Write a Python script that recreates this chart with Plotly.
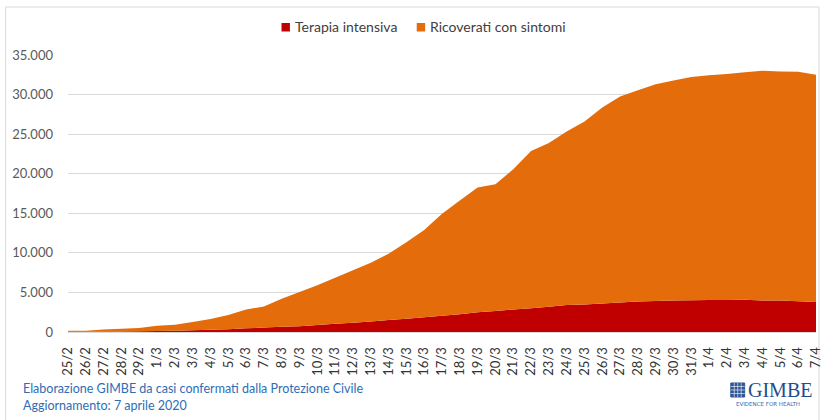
import plotly.graph_objects as go

dates = ["25/2", "26/2", "27/2", "28/2", "29/2",
         "1/3", "2/3", "3/3", "4/3", "5/3", "6/3", "7/3", "8/3", "9/3", "10/3",
         "11/3", "12/3", "13/3", "14/3", "15/3", "16/3", "17/3", "18/3", "19/3", "20/3",
         "21/3", "22/3", "23/3", "24/3", "25/3", "26/3", "27/3", "28/3", "29/3", "30/3", "31/3",
         "1/4", "2/4", "3/4", "4/4", "5/4", "6/4", "7/4"]

terapia_intensiva = [35, 36, 56, 64, 105,
                     140, 166, 229, 295, 351, 462, 567, 650, 733, 877,
                     1028, 1153, 1328, 1518, 1672, 1851, 2060, 2257, 2498, 2655,
                     2857, 3009, 3204, 3396, 3489, 3612, 3732, 3856, 3906, 3981, 4023,
                     4035, 4053, 4068, 3994, 3977, 3898, 3792]

ricoverati_con_sintomi = [114, 128, 248, 345, 401,
                          639, 742, 1034, 1346, 1790, 2394, 2651, 3557, 4316, 5038,
                          5838, 6650, 7426, 8372, 9663, 11025, 12894, 14363, 15757, 16020,
                          17708, 19846, 20692, 21937, 23112, 24753, 26029, 26676, 27386, 27795, 28192,
                          28403, 28540, 28741, 29010, 28949, 28976, 28718]

series_names = ["Terapia intensiva", "Ricoverati con sintomi"]

y_ticks = [0, 5000, 10000, 15000, 20000, 25000, 30000, 35000]

RED = "#C00000"
ORANGE = "#E46C0A"
FONT = "Lato"

W, H = 829, 420
L, R, T, B = 68, 6, 55, 88
pw, ph = W - L - R, H - T - B


def px(x):
    return (x - L) / pw


def py(y):
    return (H - B - y) / ph


fig = go.Figure()
fig.add_trace(go.Scatter(x=dates, y=terapia_intensiva, name=series_names[0],
                         mode="none", stackgroup="one", fillcolor=RED,
                         hoverinfo="x+y"))
fig.add_trace(go.Scatter(x=dates, y=ricoverati_con_sintomi, name=series_names[1],
                         mode="none", stackgroup="one", fillcolor=ORANGE,
                         hoverinfo="x+y"))

shapes = [
    dict(type="rect", xref="paper", yref="paper", x0=px(5), x1=px(826), y0=py(430), y1=py(7),
         line=dict(color="#D9D9D9", width=1), fillcolor="rgba(0,0,0,0)", layer="below"),
    # legend keys
    dict(type="rect", xref="paper", yref="paper", x0=px(283.5), x1=px(292), y0=py(31.5), y1=py(23),
         line=dict(width=0), fillcolor=RED),
    dict(type="rect", xref="paper", yref="paper", x0=px(420), x1=px(428.5), y0=py(31.5), y1=py(23),
         line=dict(width=0), fillcolor=ORANGE),
    # logo icon
    dict(type="rect", xref="paper", yref="paper", x0=px(737), x1=px(751), y0=py(397), y1=py(383),
         line=dict(color="#2F5597", width=1), fillcolor="#2F5597"),
]
for k in range(1, 4):
    xx = 737 + k * 3.5
    shapes.append(dict(type="line", xref="paper", yref="paper", x0=px(xx), x1=px(xx),
                       y0=py(397), y1=py(383), line=dict(color="#FFFFFF", width=0.6)))
    yy = 383 + k * 3.5
    shapes.append(dict(type="line", xref="paper", yref="paper", x0=px(737), x1=px(751),
                       y0=py(yy), y1=py(yy), line=dict(color="#FFFFFF", width=0.6)))

annotations = [
    dict(text=series_names[0], xref="paper", yref="paper", x=px(295), y=py(27),
         xanchor="left", yanchor="middle", showarrow=False,
         font=dict(family=FONT, size=14, color="#404040")),
    dict(text=series_names[1], xref="paper", yref="paper", x=px(431), y=py(27),
         xanchor="left", yanchor="middle", showarrow=False,
         font=dict(family=FONT, size=14, color="#404040")),
    dict(text="Elaborazione GIMBE da casi confermati dalla Protezione Civile",
         xref="paper", yref="paper", x=px(21), y=py(388), xanchor="left", yanchor="middle",
         showarrow=False, font=dict(family=FONT, size=12.5, color="#2E6DB4")),
    dict(text="Aggiornamento: 7 aprile 2020",
         xref="paper", yref="paper", x=px(21), y=py(405), xanchor="left", yanchor="middle",
         showarrow=False, font=dict(family=FONT, size=12.5, color="#2E6DB4")),
    dict(text="GIMBE", xref="paper", yref="paper", x=px(752), y=py(390), xanchor="left",
         yanchor="middle", showarrow=False,
         font=dict(family="Liberation Serif", size=20, color="#1F4E8C")),
    dict(text="EVIDENCE FOR HEALTH", xref="paper", yref="paper", x=px(775), y=py(403.5),
         xanchor="center", yanchor="middle", showarrow=False,
         font=dict(family="DejaVu Sans", size=5.5, color="#3A64A8")),
]

fig.update_layout(
    width=W, height=H,
    margin=dict(l=L, r=R, t=T, b=B, pad=0),
    paper_bgcolor="white", plot_bgcolor="white",
    separators=",.",
    font=dict(family=FONT, color="#404040"),
    showlegend=False,
    xaxis=dict(type="category", range=[0, len(dates) - 1], tickangle=-90,
               showgrid=False, zeroline=False, showline=True, linecolor="#D9D9D9",
               ticks="", tickfont=dict(family=FONT, size=13, color="#333333"),
               ticklabelstandoff=9),
    yaxis=dict(range=[0, 35000], tickvals=y_ticks, tickformat=",d",
               showgrid=True, gridcolor="#D9D9D9", gridwidth=1, zeroline=False,
               showline=False, ticks="", ticklabelstandoff=14,
               tickfont=dict(family=FONT, size=13, color="#595959")),
    shapes=shapes,
    annotations=annotations,
)

fig.write_html("out.html", config={"displayModeBar": False},
               post_script="document.body.style.margin='0';document.body.style.overflow='hidden';")
